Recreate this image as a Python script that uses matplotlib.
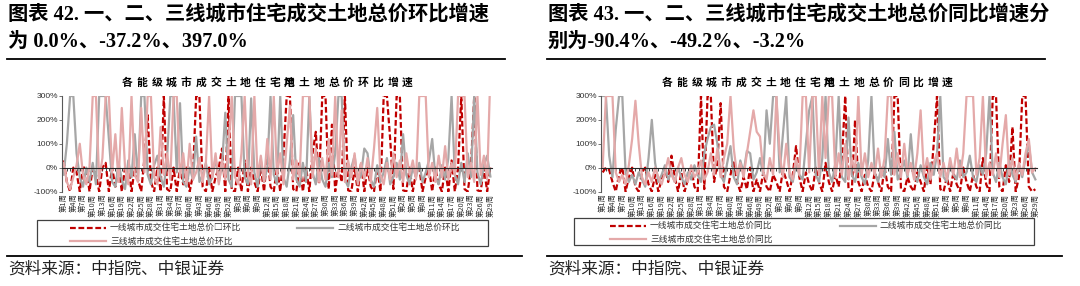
import matplotlib
matplotlib.use('Agg')
import matplotlib.pyplot as plt
from matplotlib.lines import Line2D
from matplotlib.patches import Rectangle
import numpy as np

plt.rcParams['font.family'] = ['Noto Sans CJK SC', 'DejaVu Sans']
plt.rcParams['axes.unicode_minus'] = False

W, H = 1080, 286

# 周度标签：两个完整年度 + 第三年前29周
weeks = list(range(1, 53)) + list(range(1, 53)) + list(range(1, 30))
week_labels = [f'第{w}周' for w in weeks]

# 环比（%）
mom_tier1 = [30, -60, -100, 0, -20, -100, 0, 0, -100, 0,
             -30, -100, 0, 20, -100, 0, -80, 0, -100, 0,
             10, -100, 0, -50, -100, 40, 220, -60, -100, 0,
             -100, 300, -90, -100, 0, -100, 0, -70, 0, -100,
             -30, 300, 300, -80, -100, 0, -100, -40, 0, 80,
             -100, 300, -95, -100, 0, -100, 30, -100, 0, -60,
             -100, 0, -100, 60, -80, -100, 0, -100, 50, 300,
             300, -90, -100, 20, -100, 0, -100, 60, 150, -70,
             300, 300, -90, 180, -100, 0, -60, 300, -95, -100,
             0, -100, 20, -100, 0, -80, -100, 0, -100, 300,
             300, 120, -90, 300, 300, -95, -100, 0, -100, -20,
             0, -100, -40, 0, -100, 0, -70, -100, 0, -100,
             30, -100, 0, 300, -90, -100, 0, 300, -95, -100,
             0, -100, 0.0]
mom_tier2 = [-30, 100, 300, 300, 60, -40, -80, 0, -60, 20,
             -70, 300, 300, 300, 120, -60, -80, 20, -50, -90,
             30, -40, 140, -50, 300, 300, -30, -70, 10, 50,
             -40, -80, 40, 300, 300, -20, 270, -60, -80, 0,
             -50, 130, -60, -30, 20, -70, -40, 40, -60, 10,
             230, -50, -80, 300, 300, 300, -40, -70, 290, -20,
             -80, 30, -60, 0, 300, -30, -70, 300, -40, -80,
             30, 220, -50, -80, 20, -60, 300, -20, -70, 40,
             -50, -80, 20, -40, 60, 300, 300, -50, -80, 0,
             50, -60, -30, 80, 60, -50, -80, 10, -60, -20,
             40, -70, -40, 20, -50, 140, -30, -70, 0, -40,
             20, -60, -20, 30, 120, -40, -70, 10, -50, 40,
             300, -30, -70, 20, -60, 60, -40, 300, -20, -70,
             10, 50, -37.2]
mom_tier3 = [20, -60, -90, -40, 10, 100, -30, -70, 0, 300,
             300, -50, 40, 300, 300, -20, 140, -60, 250, 0,
             -70, 300, -30, -60, 250, -20, 300, 300, -40, -70,
             170, -30, 60, -50, 300, 300, -40, 60, -70, 100,
             -50, -20, 40, -60, 20, 300, -40, 60, -70, 30,
             -50, 80, 300, -40, -70, 60, 300, -30, -70, 300,
             -40, 50, -60, 120, -50, 300, -30, 60, -70, 100,
             260, -50, 30, -40, 300, 300, 300, -40, 80, -60,
             40, -50, 120, -30, 300, -40, 240, -60, 30, -40,
             60, -70, 20, -50, 40, -60, 80, 250, -30, -70,
             20, -50, 60, -40, 30, -60, 60, -30, 30, -50,
             300, 300, 300, -40, 20, -60, 50, -40, 90, -50,
             20, -30, 300, 300, 300, -40, 20, -60, 300, -30,
             50, -50, 397.0]

# 同比（%）
yoy_tier1 = [-20, 0, -10, -60, -100, -30, 0, -100, -40, 0,
             -80, -100, -20, 0, -70, -100, -30, -100, -50, 0,
             -60, 50, -40, -100, -20, -100, -50, 0, -80, -100,
             300, -90, 300, 300, -60, 20, 270, -80, -100, -30,
             30, -60, -100, -40, -90, 0, -100, -50, -100, -20,
             -80, -100, -30, -60, -100, -10, -50, -100, -30, 90,
             -40, -100, -20, -70, -100, 0, -60, -100, 20, -60,
             -100, -30, -80, 40, 300, -90, -100, 200, -60, -100,
             -30, -80, -100, -20, -60, -100, 0, -80, -100, 300,
             300, -90, -100, -40, -80, -100, -20, -60, -100, 10,
             -70, 100, 300, -90, -100, -40, -100, -20, -70, -100,
             0, -60, -100, -30, -80, -100, 40, -70, -100, 300,
             300, -80, -100, 10, -60, 170, -100, -40, 300, 300,
             -80, -100, -90.4]
yoy_tier2 = [300, 300, 50, -40, 160, 300, 300, -20, -60, -30,
             -70, -20, -50, -80, 40, 200, 20, -60, -30, 10,
             -50, -20, -60, 0, -40, -70, -20, -50, 10, -30,
             -60, 60, 120, 170, 180, 100, -30, -60, 20, 90,
             -40, -70, 30, -20, 70, 60, -50, -20, 40, -30,
             240, 100, 300, 300, -20, 140, 300, -40, -60, 20,
             -30, -50, 100, 240, 300, -30, -60, 40, 300, -20,
             -60, 20, 300, -40, -60, 210, -30, -60, 20, -40,
             -70, 30, 300, -20, -60, 0, -40, 120, -30, 150,
             -50, -20, 30, -40, 140, -30, -60, 10, -40, -70,
             20, -30, 60, 300, -40, -60, 20, -30, -50, 30,
             -40, -20, 50, -40, -60, 10, -30, 60, 300, -20,
             -60, 20, -40, -70, 30, -30, -60, 10, -40, 40,
             100, -20, -49.2]
yoy_tier3 = [0, 300, 300, 300, -20, -60, -30, -70, 10, 120,
             280, 100, -40, -70, -20, -60, 0, -40, -70, -20,
             40, -30, -60, 0, 40, -30, -60, 10, -40, -20,
             30, -50, -20, 60, -30, 80, -40, 40, 100, 300,
             80, -30, 20, -40, 60, 150, 240, 150, 130, -20,
             -50, 40, -30, 300, 60, -40, 100, -20, -50, 40,
             -30, 300, 300, -20, 300, 300, -30, 300, 40, 300,
             300, -40, 60, -30, 100, -50, 40, -20, 300, -30,
             60, -40, 20, -30, 80, -40, 40, 300, 300, -30,
             60, -40, 100, -30, 20, -50, 60, 240, -30, 40,
             -50, 20, 60, -40, 20, -50, 40, -30, 80, -40,
             60, 300, 300, 300, -30, 40, 300, -40, 20, -30,
             60, -40, 100, 220, -30, 40, -50, 20, -30, 60,
             120, -20, -3.2]

y_ticks = [-100, 0, 100, 200, 300]

RED = '#C00000'
GRAY = '#A6A6A6'
PINK = '#E4A9A9'
SERIF = ['Liberation Serif', 'Noto Sans CJK SC']

fig = plt.figure(figsize=(W / 100, H / 100), dpi=100)


def fx(x):
    return x / W


def fy(y):
    return 1 - y / H


def hline(x0, x1, y, lw):
    fig.add_artist(Line2D([fx(x0), fx(x1)], [fy(y), fy(y)], color='black', lw=lw))


def draw_panel(ox, head1, head2, title_chars, series, names, ax_lr, box, leg_x):
    # 标题
    fig.text(fx(ox + 8), fy(15), head1, fontsize=14.6, fontweight='bold', family=SERIF, va='center')
    fig.text(fx(ox + 8), fy(42), head2, fontsize=14.6, fontweight='bold', family=SERIF, va='center')
    hline(ox + 7, ox + 505, 58.5, 1.3)

    # 图内标题，逐字排开
    t0 = ox + 120
    for i, ch in enumerate(title_chars):
        for c in ch:
            fig.text(fx(t0 + 14.75 * (i + 0.5)), fy(86), c, fontsize=7.8, fontweight='bold',
                     ha='center', va='baseline')

    left, right = ax_lr
    ax = fig.add_axes([fx(left), fy(191.5), fx(right) - fx(left), (191.5 - 96) / H])
    x = np.arange(len(weeks))
    styles = [(RED, (0, (2.6, 1.2))), (GRAY, '-'), (PINK, '-')]
    for vals, (color, ls) in zip(series, styles):
        ax.plot(x, vals, color=color, lw=1.6, ls=ls)
    ax.set_xlim(-0.5, len(weeks) - 0.5)
    ax.set_ylim(-100, 300)
    ax.set_yticks(y_ticks)
    ax.set_yticklabels([f'{v}%' for v in y_ticks], fontsize=6, family='Liberation Sans', color='#333333')
    ax.tick_params(axis='y', length=2, width=0.6, color='#595959', pad=1)
    for s in ('top', 'right'):
        ax.spines[s].set_visible(False)
    ax.spines['left'].set_color('#595959')
    ax.spines['left'].set_linewidth(0.8)
    ax.spines['bottom'].set_position(('data', 0))
    ax.spines['bottom'].set_color('#262626')
    ax.spines['bottom'].set_linewidth(0.8)
    ax.set_xticks(x)
    ax.tick_params(axis='x', length=2, width=0.6, color='#262626', labelbottom=False)
    ax.patch.set_alpha(0)

    sec = ax.secondary_xaxis('bottom')
    sec.set_xticks(x[::3])
    sec.set_xticklabels(week_labels[::3], rotation=90, fontsize=5.3, color='#333333')
    sec.tick_params(length=0, pad=1.5)
    sec.spines['bottom'].set_visible(False)

    # 图例
    bx0, by0, bx1, by1 = box
    fig.add_artist(Rectangle((fx(bx0), fy(by1)), fx(bx1) - fx(bx0), (by1 - by0) / H,
                             fill=False, edgecolor='#404040', lw=0.9))
    rows = [(leg_x[0], by0 + 7.5), (leg_x[1], by0 + 7.5), (leg_x[0], by0 + 21)]
    for (lx, ly), name, (color, ls) in zip(rows, names, styles):
        fig.add_artist(Line2D([fx(lx), fx(lx + 36)], [fy(ly), fy(ly)], color=color, lw=1.6, ls=ls))
        fig.text(fx(lx + 40), fy(ly), name, fontsize=6.3, color='#333333', va='center')

    hline(ox + 7, ox + 522, 256, 1.3)
    fig.text(fx(ox + 8), fy(269), '资料来源：中指院、中银证券', fontsize=12, color='#222222', va='center')


title_l = list('各能级城市成交土地住宅') + ['用地'] + list('土地总价环比增速')
title_r = list('各能级城市成交土地住宅') + ['用地'] + list('土地总价同比增速')

draw_panel(0, '图表 42. 一、二、三线城市住宅成交土地总价环比增速', '为 0.0%、-37.2%、397.0%',
           title_l, [mom_tier1, mom_tier2, mom_tier3],
           ['一线城市成交住宅土地总价□环比', '二线城市成交住宅土地总价环比', '三线城市成交住宅土地总价环比'],
           (62, 492), (37, 220, 488, 246), (70, 297))

draw_panel(540, '图表 43. 一、二、三线城市住宅成交土地总价同比增速分', '别为-90.4%、-49.2%、-3.2%',
           title_r, [yoy_tier1, yoy_tier2, yoy_tier3],
           ['一线城市成交住宅土地总价同比', '二线城市成交住宅土地总价同比', '三线城市成交住宅土地总价同比'],
           (601, 1037), (574, 218, 1034, 245), (610, 840))

fig.savefig('out.png', dpi=100)
